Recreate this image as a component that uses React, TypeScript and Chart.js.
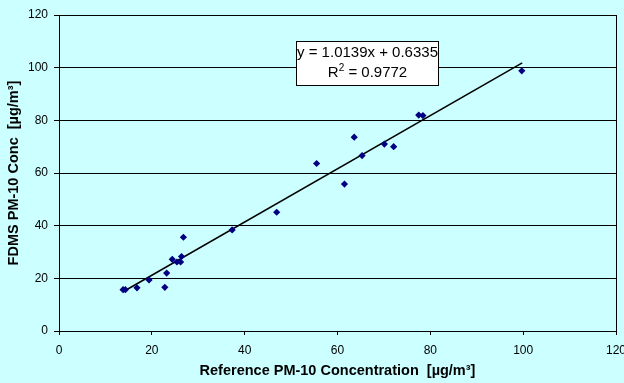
import React, { useEffect, useRef } from "react";
import { Chart, registerables } from "chart.js";

Chart.register(...registerables);

// ---- data ----
const REF_X = [13.8, 14.3, 16.8, 19.4, 22.8, 23.2, 24.4, 25.4, 26.2, 26.4, 26.8, 37.3, 46.9, 55.5, 61.5, 63.6, 65.3, 70.1, 72.1, 77.5, 78.4, 99.7];
const FDMS_Y = [15.7, 15.7, 16.4, 19.4, 16.6, 22.0, 27.2, 26.2, 26.2, 28.3, 35.6, 38.4, 45.1, 63.6, 55.8, 73.6, 66.6, 71.0, 70.0, 82.0, 81.8, 98.8];
const TREND_X = [13.8, 99.8];
const TREND_Y = [14.9, 101.8];
const X_TICKS = [0, 20, 40, 60, 80, 100, 120];
const Y_TICKS = [0, 20, 40, 60, 80, 100, 120];
const X_TITLE = "Reference PM-10 Concentration  [µg/m³]";
const Y_TITLE = "FDMS PM-10 Conc  [µg/m³]";
const EQUATION = "y = 1.0139x + 0.6335";
const R2_VALUE = "0.9772";

const FONT = '"Liberation Sans", Arial, Helvetica, sans-serif';
const BG = "#CCFFFF";

const eqBoxPlugin = {
  id: "eqBox",
  afterDatasetsDraw(chart: any) {
    const { ctx } = chart;
    const bx = 296, by = 41, bw = 143, bh = 45;
    ctx.save();
    ctx.fillStyle = "#ffffff";
    ctx.fillRect(bx, by, bw, bh);
    ctx.strokeStyle = "#000000";
    ctx.lineWidth = 1;
    ctx.strokeRect(bx + 0.5, by + 0.5, bw - 1, bh - 1);
    ctx.fillStyle = "#000000";
    ctx.textBaseline = "middle";
    ctx.textAlign = "center";
    ctx.font = `15px ${FONT}`;
    const cx = bx + bw / 2;
    ctx.fillText(EQUATION, cx, 52.5);
    // R² line
    const main = "R";
    const rest = " = " + R2_VALUE;
    const wMain = ctx.measureText(main).width;
    const wRest = ctx.measureText(rest).width;
    ctx.font = `10px ${FONT}`;
    const wSup = ctx.measureText("2").width;
    const total = wMain + wSup + wRest;
    let x = cx - total / 2;
    const ly = 73;
    ctx.textAlign = "left";
    ctx.font = `15px ${FONT}`;
    ctx.fillText(main, x, ly);
    x += wMain;
    ctx.font = `10px ${FONT}`;
    ctx.fillText("2", x, ly - 5);
    x += wSup;
    ctx.font = `15px ${FONT}`;
    ctx.fillText(rest, x, ly);
    ctx.restore();
  },
};

export default function App() {
  const ref = useRef<HTMLCanvasElement | null>(null);

  useEffect(() => {
    document.body.style.margin = "0";
    document.body.style.background = BG;
    const canvas = ref.current;
    if (!canvas) return;
    Chart.defaults.font.family = FONT;

    const points = REF_X.map((x, i) => ({ x, y: FDMS_Y[i] }));
    const trend = TREND_X.map((x, i) => ({ x, y: TREND_Y[i] }));

    const chart = new Chart(canvas, {
      type: "scatter",
      data: {
        datasets: [
          {
            label: "trend",
            data: trend,
            showLine: true,
            borderColor: "#000000",
            borderWidth: 1.5,
            pointRadius: 0,
            order: 2,
          },
          {
            label: "FDMS",
            data: points,
            pointStyle: "rectRot",
            pointRadius: 3.6,
            pointBackgroundColor: "#000080",
            pointBorderColor: "#000080",
            pointBorderWidth: 0,
            order: 1,
          },
        ],
      },
      options: {
        responsive: false,
        animation: false,
        devicePixelRatio: 1,
        layout: { padding: { top: 15, right: 8, bottom: 0, left: 0 } },
        plugins: {
          legend: { display: false },
          tooltip: { enabled: false },
        },
        scales: {
          x: {
            type: "linear",
            min: 0,
            max: 120,
            afterBuildTicks: (scale: any) => {
              scale.ticks = X_TICKS.map((v) => ({ value: v }));
            },
            afterFit: (scale: any) => {
              scale.height = 52;
              scale.paddingLeft = 0;
              scale.paddingRight = 0;
            },
            ticks: {
              color: "#000000",
              font: { size: 12 },
              padding: 8,
              maxRotation: 0,
              autoSkip: false,
            },
            grid: {
              color: (c: any) => (c.tick && c.tick.value === 120 ? "#000000" : "rgba(0,0,0,0)"),
              tickColor: "#000000",
              tickLength: 4,
              lineWidth: 1,
            },
            border: { display: true, color: "#000000", width: 1 },
            title: {
              display: true,
              text: X_TITLE,
              color: "#000000",
              font: { size: 14.5, weight: "bold", lineHeight: 1.2 },
              padding: { top: 0, bottom: 3 },
            },
          },
          y: {
            type: "linear",
            min: 0,
            max: 120,
            afterBuildTicks: (scale: any) => {
              scale.ticks = Y_TICKS.map((v) => ({ value: v }));
            },
            afterFit: (scale: any) => {
              scale.width = 59;
              scale.paddingTop = 0;
              scale.paddingBottom = 0;
            },
            ticks: {
              color: "#000000",
              font: { size: 12 },
              padding: 6,
              autoSkip: false,
            },
            grid: {
              color: "#000000",
              tickColor: "#000000",
              tickLength: 5,
              lineWidth: 1,
            },
            border: { display: true, color: "#000000", width: 1 },
            title: {
              display: true,
              text: Y_TITLE,
              color: "#000000",
              font: { size: 14.5, weight: "bold", lineHeight: 1.2 },
              padding: { top: 5, bottom: 0 },
            },
          },
        },
      },
      plugins: [eqBoxPlugin],
    });

    return () => chart.destroy();
  }, []);

  return (
    <div style={{ position: "absolute", left: 0, top: 0, width: 624, height: 383, background: BG }}>
      <canvas ref={ref} width={624} height={383} style={{ display: "block" }} />
    </div>
  );
}
